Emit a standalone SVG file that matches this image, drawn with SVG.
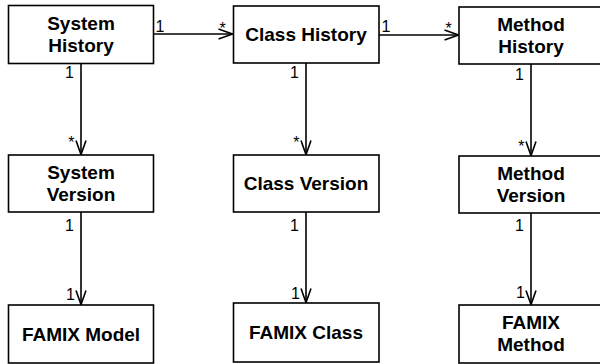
<svg xmlns="http://www.w3.org/2000/svg" width="600" height="364" viewBox="0 0 600 364">
<defs>
<style>
.box{fill:#fff;stroke:#000;stroke-width:1.6}
.t{font-family:"Liberation Sans",Arial,sans-serif;font-weight:bold;font-size:19px;fill:#000;text-anchor:middle}
.m{font-family:"Liberation Sans",Arial,sans-serif;font-size:16px;fill:#000}
.e{text-anchor:end}
.c{fill:none;stroke:#000;stroke-width:1.6}
</style>
<marker id="arr" markerUnits="userSpaceOnUse" markerWidth="20" markerHeight="14" viewBox="-16 -7 18 14" refX="0" refY="0" orient="auto">
<path d="M-14,-5 L0,0 L-14,5" fill="none" stroke="#000" stroke-width="1.6"/>
</marker>
</defs>
<rect width="600" height="364" fill="#fff"/>
<g id="connectors">
<line class="c" x1="153.5" y1="34" x2="232.5" y2="34" marker-end="url(#arr)"/>
<text class="m" x="155.5" y="31.5">1</text>
<text class="m" x="219.5" y="33.5">*</text>
<line class="c" x1="379" y1="35" x2="458.5" y2="35" marker-end="url(#arr)"/>
<text class="m" x="381.5" y="32">1</text>
<text class="m" x="445.5" y="34">*</text>
<line class="c" x1="81" y1="63.5" x2="81" y2="154.5" marker-end="url(#arr)"/>
<text class="m e" x="74" y="77.5">1</text>
<text class="m e" x="74.5" y="148">*</text>
<line class="c" x1="306" y1="63" x2="306" y2="154.5" marker-end="url(#arr)"/>
<text class="m e" x="299" y="77.5">1</text>
<text class="m e" x="299.5" y="148">*</text>
<line class="c" x1="531" y1="64" x2="531" y2="155.5" marker-end="url(#arr)"/>
<text class="m e" x="524" y="80">1</text>
<text class="m e" x="524.5" y="152">*</text>
<line class="c" x1="81" y1="212" x2="81" y2="304.5" marker-end="url(#arr)"/>
<text class="m e" x="74" y="230.5">1</text>
<text class="m e" x="75" y="300">1</text>
<line class="c" x1="306" y1="212" x2="306" y2="302.5" marker-end="url(#arr)"/>
<text class="m e" x="299" y="230.5">1</text>
<text class="m e" x="300" y="299">1</text>
<line class="c" x1="531" y1="213" x2="531" y2="304.5" marker-end="url(#arr)"/>
<text class="m e" x="524" y="230.5">1</text>
<text class="m e" x="525" y="297.5">1</text>
</g>
<g id="system-history">
<rect class="box" x="8.5" y="5.5" width="145" height="58"/>
<text class="t" x="81" y="30">System</text>
<text class="t" x="81" y="52">History</text>
</g>
<g id="class-history">
<rect class="box" x="233.5" y="6" width="145.5" height="57"/>
<text class="t" x="306" y="41">Class History</text>
</g>
<g id="method-history">
<rect class="box" x="459" y="7" width="145" height="57"/>
<text class="t" x="531" y="31">Method</text>
<text class="t" x="531" y="53">History</text>
</g>
<g id="system-version">
<rect class="box" x="8.5" y="155" width="145" height="57"/>
<text class="t" x="81" y="179">System</text>
<text class="t" x="81" y="201">Version</text>
</g>
<g id="class-version">
<rect class="box" x="233.5" y="155" width="145.5" height="57"/>
<text class="t" x="306" y="190">Class Version</text>
</g>
<g id="method-version">
<rect class="box" x="459" y="156" width="145" height="57"/>
<text class="t" x="531" y="179.5">Method</text>
<text class="t" x="531" y="201.5">Version</text>
</g>
<g id="famix-model">
<rect class="box" x="8.5" y="305" width="145" height="58"/>
<text class="t" x="81" y="340.5">FAMIX Model</text>
</g>
<g id="famix-class">
<rect class="box" x="233.5" y="303" width="145.5" height="59"/>
<text class="t" x="306" y="338.5">FAMIX Class</text>
</g>
<g id="famix-method">
<rect class="box" x="459" y="305" width="145" height="58"/>
<text class="t" x="531" y="328.5">FAMIX</text>
<text class="t" x="531" y="350.5">Method</text>
</g>
</svg>
